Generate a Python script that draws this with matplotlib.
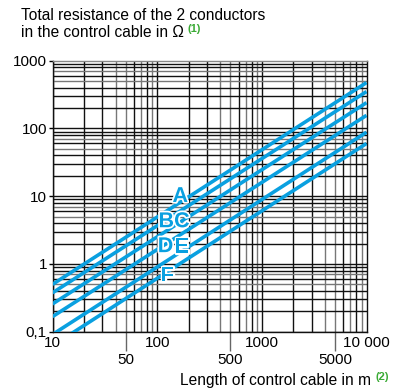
import matplotlib
matplotlib.use("Agg")
import matplotlib.pyplot as plt
import matplotlib.patheffects as pe
from matplotlib.ticker import FixedLocator, NullLocator, FixedFormatter

plt.rcParams['font.family'] = ['Liberation Sans', 'DejaVu Sans']

# cable length (m) at both ends of the chart
lengths = [10, 10000]
# total resistance of the 2 conductors (ohm) at 10 m and 10 000 m
curve_names = ['A', 'B', 'C', 'D', 'E', 'F']
res_A = [0.5, 475]
res_B = [0.375, 350]
res_C = [0.257, 240]
res_D = [0.167, 156]
res_E = [0.091, 88]
res_F = [0.062, 60]
curves = [res_A, res_B, res_C, res_D, res_E, res_F]

y_ticks = [0.1, 1, 10, 100, 1000]
y_labels = ['0,1', '1', '10', '100', '1000']
x_major = [10, 100, 1000, 10000]
x_major_labels = ['10', '100', '1000', '10 000']
x_minor = [50, 500, 5000]
x_minor_labels = ['50', '500', '5000']

blue = '#0aa0e0'
green = '#3aaa35'

fig = plt.figure(figsize=(4.01, 3.89), dpi=100)
ax = fig.add_axes([0.131, 0.1473, 0.783, 0.6967])
ax.set_xscale('log')
ax.set_yscale('log')
ax.set_xlim(10, 10000)
ax.set_ylim(0.1, 1000)

# log paper grid
gray_steps = {4, 5, 7, 9}
for dec in [10, 100, 1000]:
    for k in range(1, 10):
        v = dec * k
        col = '#777777' if k in gray_steps else '#111111'
        ax.axvline(v, color=col, lw=1.0, zorder=1)
for dec in [0.1, 1, 10, 100]:
    for k in range(1, 10):
        v = dec * k
        col = '#777777' if k in (5, 7) else '#111111'
        ax.axhline(v, color=col, lw=1.0, zorder=1)

for r in curves:
    ax.plot(lengths, r, color=blue, lw=2.6, solid_capstyle='butt', zorder=3)

# curve letters
label_pos = {'A': (166, 9.9), 'B': (122, 4.2), 'C': (172, 4.2),
             'D': (120, 1.8), 'E': (172, 1.77), 'F': (124, 0.665)}
for name in curve_names:
    lx, ly = label_pos[name]
    ax.text(lx, ly, name, color=blue, fontsize=15.5, fontweight='bold',
            ha='center', va='center', zorder=4,
            path_effects=[pe.withStroke(linewidth=2.5, foreground='white')])

for s in ax.spines.values():
    s.set_color('#111111')
    s.set_linewidth(1.0)
ax.spines['top'].set_color('#888888')

ax.yaxis.set_major_locator(FixedLocator(y_ticks))
ax.yaxis.set_major_formatter(FixedFormatter(y_labels))
ax.yaxis.set_minor_locator(NullLocator())
ax.tick_params(axis='y', which='major', length=3, width=1, pad=1, labelsize=11)

ax.xaxis.set_major_locator(FixedLocator(x_major))
ax.xaxis.set_major_formatter(FixedFormatter(x_major_labels))
ax.xaxis.set_minor_locator(FixedLocator(x_minor))
ax.xaxis.set_minor_formatter(FixedFormatter(x_minor_labels))
ax.tick_params(axis='x', which='major', length=0, pad=3, labelsize=11)
ax.tick_params(axis='x', which='minor', length=13.5, width=1, color='#666666',
               pad=2, labelsize=11)

# titles (baselines given in pixels from the top)
H = 389
t1 = fig.text(21 / 401, 1 - 20 / H, 'Total resistance of the 2 conductors',
              fontsize=11.2, va='baseline', ha='left')
t2 = fig.text(21 / 401, 1 - 37 / H, 'in the control cable in \u03a9',
              fontsize=11.2, va='baseline', ha='left')
t3 = fig.text(180 / 401, 1 - 385 / H, 'Length of control cable in m',
              fontsize=11.2, va='baseline', ha='left')
fig.canvas.draw()
r = fig.canvas.get_renderer()
for t, base, sup in [(t2, 37, '(1)'), (t3, 385, '(2)')]:
    bb = t.get_window_extent(r)
    fig.text((bb.x1 + 4) / 401, 1 - (base - 5) / H, sup, color=green,
             fontsize=8, fontweight='bold', va='baseline', ha='left')

fig.savefig('out.png', dpi=100)
